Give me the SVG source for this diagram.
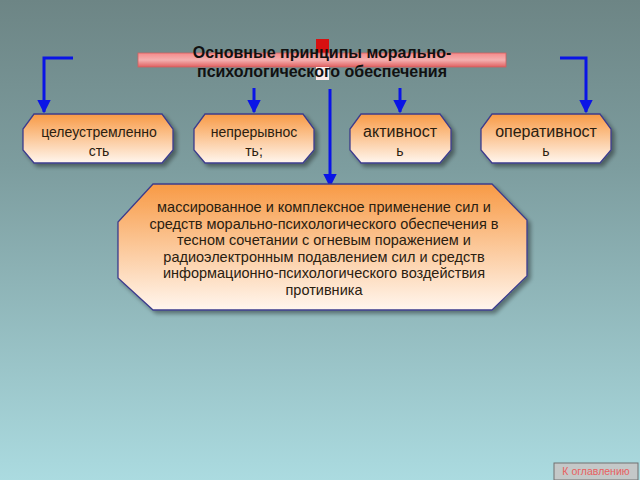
<svg xmlns="http://www.w3.org/2000/svg" width="640" height="480" viewBox="0 0 640 480">
<defs>
<linearGradient id="bg" x1="0" y1="0" x2="0" y2="1">
<stop offset="0" stop-color="#6d8585"/>
<stop offset="0.35" stop-color="#7d9d9f"/>
<stop offset="1" stop-color="#abdbe0"/>
</linearGradient>
<linearGradient id="box" x1="0" y1="0" x2="0" y2="1">
<stop offset="0" stop-color="#f89a45"/>
<stop offset="1" stop-color="#fff6ee"/>
</linearGradient>
<linearGradient id="bar" x1="0" y1="0" x2="0" y2="1">
<stop offset="0" stop-color="#f58a8a"/>
<stop offset="0.5" stop-color="#f4b0b0"/>
<stop offset="1" stop-color="#e06060"/>
</linearGradient>
<marker id="ah" viewBox="0 0 10 10" refX="9" refY="5" markerWidth="4.5" markerHeight="4.5" orient="auto" markerUnits="strokeWidth">
<path d="M0,0 L10,5 L0,10 z" fill="#0a14e6"/>
</marker>
<filter id="sh" x="-10%" y="-10%" width="130%" height="140%">
<feGaussianBlur in="SourceAlpha" stdDeviation="2"/>
<feOffset dx="3" dy="3"/>
<feComponentTransfer><feFuncA type="linear" slope="0.4"/></feComponentTransfer>
<feMerge><feMergeNode/><feMergeNode in="SourceGraphic"/></feMerge>
</filter>
</defs>
<style>
.nd{fill:url(#box);stroke:#3c3c8c;stroke-width:1.3;filter:url(#sh)}
.t{font-family:"Liberation Sans",Arial,sans-serif;font-size:14px;fill:#2a2010;text-anchor:middle}
.tb{font-family:"Liberation Sans",Arial,sans-serif;font-size:16px;font-weight:bold;fill:#111;text-anchor:middle}
.c{fill:none;stroke:#0a14e6;stroke-width:3;marker-end:url(#ah)}
</style>
<rect width="640" height="480" fill="url(#bg)"/>
<g id="title">
<rect x="316" y="39" width="13" height="15" fill="#d81010"/>
<rect x="138" y="53" width="368" height="14" fill="url(#bar)" stroke="#d06060" stroke-width="0.8"/>
<rect x="316" y="67" width="13" height="13" fill="#fbeaea"/>
<text class="tb" x="322" y="58">Основные принципы морально-</text>
<text class="tb" x="322" y="77">психологического обеспечения</text>
</g>
<g id="connectors">
<path class="c" d="M73,58 H44 V112"/>
<path class="c" d="M560,58 H586 V112"/>
<path class="c" d="M254,88 V112"/>
<path class="c" d="M400,88 V112"/>
<path class="c" d="M330,89 V186"/>
</g>
<g id="n1">
<polygon class="nd" points="34,114 162,114 173,129 173,150 162,163 34,163 23,150 23,129"/>
<text class="t" x="99" y="137">целеустремленно</text>
<text class="t" x="99" y="156">сть</text>
</g>
<g id="n2">
<polygon class="nd" points="205,114 303,114 314,129 314,150 303,163 205,163 194,150 194,129"/>
<text class="t" x="254" y="137">непрерывнос</text>
<text class="t" x="254" y="156">ть;</text>
</g>
<g id="n3">
<polygon class="nd" points="361,114 440,114 451,129 451,150 440,163 361,163 350,150 350,129"/>
<text class="t" x="400" y="137" style="font-size:16px">активност</text>
<text class="t" x="400" y="156">ь</text>
</g>
<g id="n4">
<polygon class="nd" points="492,114 600,114 611,129 611,150 600,163 492,163 481,150 481,129"/>
<text class="t" x="546" y="137" style="font-size:16px">оперативност</text>
<text class="t" x="546" y="156">ь</text>
</g>
<g id="n5">
<polygon class="nd" points="153,184 492,184 527,220 527,276 492,310 153,310 118,278 118,222"/>
<g style="font-size:14.5px">
<text class="t" x="324" y="212" style="font-size:14.5px">массированное и комплексное применение сил и</text>
<text class="t" x="324" y="228.5" style="font-size:14.5px">средств морально-психологического обеспечения в</text>
<text class="t" x="324" y="245" style="font-size:14.5px">тесном сочетании с огневым поражением и</text>
<text class="t" x="324" y="261.5" style="font-size:14.5px">радиоэлектронным  подавлением сил и средств</text>
<text class="t" x="324" y="278" style="font-size:14.5px">информационно-психологического воздействия</text>
<text class="t" x="324" y="294.5" style="font-size:14.5px">противника</text>
</g>
</g>
<g id="btn">
<rect x="554" y="463" width="84" height="17" fill="#c4c8c8" stroke="#707070" stroke-width="1"/>
<text x="596" y="475" style="font-family:'Liberation Sans',Arial,sans-serif;font-size:10.5px;fill:#e86060;text-anchor:middle">К оглавлению</text>
</g>
</svg>
